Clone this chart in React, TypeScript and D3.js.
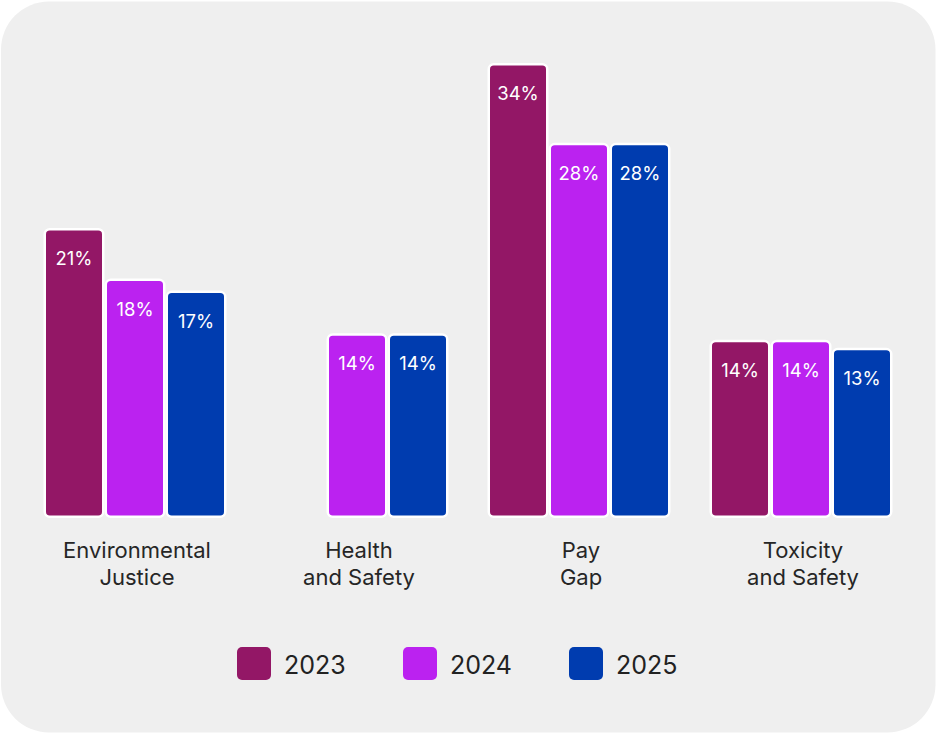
import React from "react";
import * as d3 from "d3";

const categories = ["Environmental Justice", "Health and Safety", "Pay Gap", "Toxicity and Safety"];
const categoryLines = [["Environmental", "Justice"], ["Health", "and Safety"], ["Pay", "Gap"], ["Toxicity", "and Safety"]];
const years = ["2023", "2024", "2025"];
const values2023: (number | null)[] = [21.6, null, 34.0, 13.2];
const values2024: (number | null)[] = [17.8, 13.7, 28.0, 13.2];
const values2025: (number | null)[] = [16.9, 13.7, 28.0, 12.6];
const labels2023 = ["21%", "", "34%", "14%"];
const labels2024 = ["18%", "14%", "28%", "14%"];
const labels2025 = ["17%", "14%", "28%", "13%"];
const colors = ["#931766", "#bb22f0", "#003caf"];

const W = 936;
const H = 733;
const FONT = "Inter, 'Noto Sans', sans-serif";

export default function App() {
  const series = [values2023, values2024, values2025];
  const labels = [labels2023, labels2024, labels2025];
  const x = d3.scaleBand<string>().domain(categories).range([24, 912]).paddingInner(0).paddingOuter(0);
  const xInner = d3.scaleBand<string>().domain(years).range([-91.5, 91.5]).padding(0);
  const y = d3.scaleLinear().domain([0, 34]).range([516.8, 64.2]);

  const legendX = d3.scalePoint<string>().domain(years).range([237, 569]);

  return (
    <svg width={W} height={H} style={{ position: "absolute", left: 0, top: 0 }}>
      <rect x={1} y={1.5} width={934.5} height={731} rx={48} ry={48} fill="#efefef" />
      {categories.map((c, ci) => {
        const cx = (x(c) as number) + x.bandwidth() / 2;
        return (
          <g key={c}>
            {years.map((yr, si) => {
              const v = series[si][ci];
              if (v == null) return null;
              const bx = cx + (xInner(yr) as number);
              const bw = xInner.bandwidth();
              const top = y(v);
              return (
                <g key={yr}>
                  <rect
                    x={bx + 1.25}
                    y={top}
                    width={bw - 2.5}
                    height={y(0) - top}
                    rx={5}
                    ry={5}
                    fill={colors[si]}
                    stroke="#ffffff"
                    strokeWidth={2.5}
                  />
                  <text
                    x={bx + bw / 2}
                    y={top + 36}
                    textAnchor="middle"
                    fill="#ffffff"
                    fontFamily={FONT}
                    fontSize={18.5}
                  >
                    {labels[si][ci]}
                  </text>
                </g>
              );
            })}
            <text textAnchor="middle" fontFamily={FONT} fontSize={22} fill="#262626">
              {categoryLines[ci].map((ln, li) => (
                <tspan key={li} x={cx + 2} y={558 + li * 27}>
                  {ln}
                </tspan>
              ))}
            </text>
          </g>
        );
      })}
      {years.map((yr, si) => {
        const lx = legendX(yr) as number;
        return (
          <g key={yr}>
            <rect x={lx} y={647} width={34} height={33} rx={5} ry={5} fill={colors[si]} />
            <text x={lx + 47} y={674} fontFamily={FONT} fontSize={25} fill="#222222">
              {yr}
            </text>
          </g>
        );
      })}
    </svg>
  );
}
